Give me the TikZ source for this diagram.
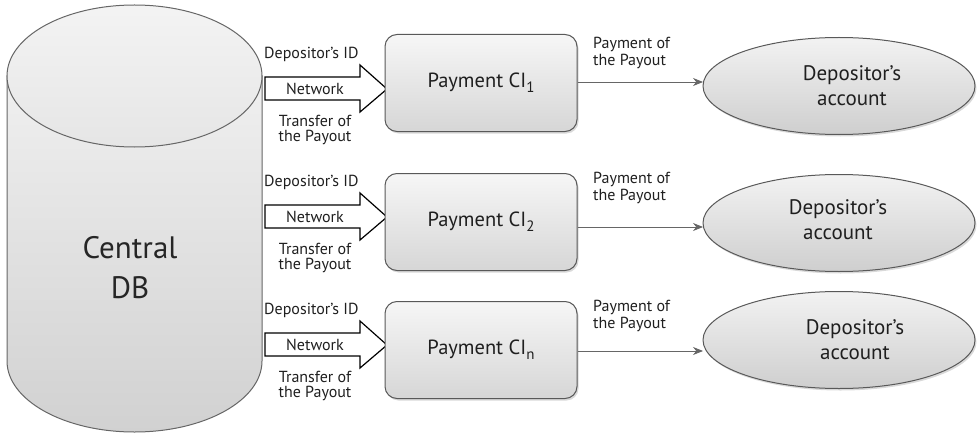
\documentclass[tikz,border=0pt]{standalone}
\usepackage{fontspec}
\setmainfont{PT Sans}
\usetikzlibrary{shadows,shapes.geometric,arrows.meta,calc}
\newcommand{\mysub}[1]{\raisebox{-0.45ex}{\fontsize{15}{15}\selectfont #1}}
\begin{document}
\begin{tikzpicture}[x=1pt,y=-1pt,
  lbl/.style={font=\fontsize{16}{15}\selectfont, inner sep=0pt, align=center, text=black!88},
  lbll/.style={font=\fontsize{16}{17}\selectfont, inner sep=0pt, align=left, text=black!88},
  pbox/.style={draw=black!65, line width=1pt, rounded corners=12pt,
    top color=gray!7, bottom color=gray!32,
    minimum width=192pt, minimum height=97pt, inner sep=0pt,
    drop shadow={opacity=0.3, shadow xshift=1.5pt, shadow yshift=-2pt},
    font=\fontsize{20.5}{24}\selectfont, text=black!88},
  acc/.style={ellipse, draw=black!65, line width=1pt,
    top color=gray!10, bottom color=gray!38,
    minimum width=272pt, minimum height=97pt, inner sep=0pt, align=center,
    drop shadow={opacity=0.3, shadow xshift=1.5pt, shadow yshift=-2pt}},
  acctext/.style={font=\fontsize{21}{25}\selectfont, text=black!88, align=center, inner sep=0pt},
  conn/.style={draw=black!60, line width=0.8pt, -{Stealth[length=10pt,width=8pt]}},
  barrow/.style={draw=black, line width=1.2pt, fill=white, line join=miter}
]
\useasboundingbox (0,0) rectangle (979,433);

% Central DB cylinder
\path[draw=black!60, line width=1pt, top color=gray!12, bottom color=gray!36]
  (7,76) -- (7,361) arc[start angle=180, end angle=360, x radius=127.5pt, y radius=71pt]
  -- (262,76) -- cycle;
\path[draw=black!60, line width=1pt, top color=gray!9, bottom color=gray!20]
  (134.5,76) ellipse [x radius=127.5pt, y radius=71pt];
\node[font=\fontsize{31}{40}\selectfont, align=center, text=black!85] (db) at (130,268) {Central\\DB};

\foreach \i/\yc/\by/\ly/\ey/\py/\s/\tx/\ty in {1/89/83/82/86/53/1/852/86, 2/217/222/227/223/188/2/838/220, 3/345/350/351/340/316/n/855/340}{
  % block arrow
  \path[barrow] (265,\yc-12) -- (360,\yc-12) -- (360,\yc-24) -- (387,\yc)
     -- (360,\yc+23) -- (360,\yc+11) -- (265,\yc+11) -- cycle;
  \node[lbl] (net\i) at (315,\yc) {Network};
  \node[lbl, anchor=west] (id\i) at (264,\yc-35) {Depositor’s ID};
  \node[lbl] (tr\i) at (315,\yc+41) {Transfer of\\the Payout};
  % payment box
  \node[pbox] (box\i) at (481,\by) {Payment CI\mysub{\s}};
  % account ellipse
  \node[acc] (acc\i) at (839,\ey) {};
  \node[acctext] (acct\i) at (\tx,\ty) {Depositor’s\\account};
  % connector
  \coordinate (s\i) at (box\i.east |- 0,\ly);
  \coordinate (t\i) at (703,\ly);
  \draw[conn] (s\i) -- (t\i);
  \node[lbll, anchor=west] (pay\i) at (593,\py) {Payment of\\the Payout};
}
\end{tikzpicture}
\end{document}
